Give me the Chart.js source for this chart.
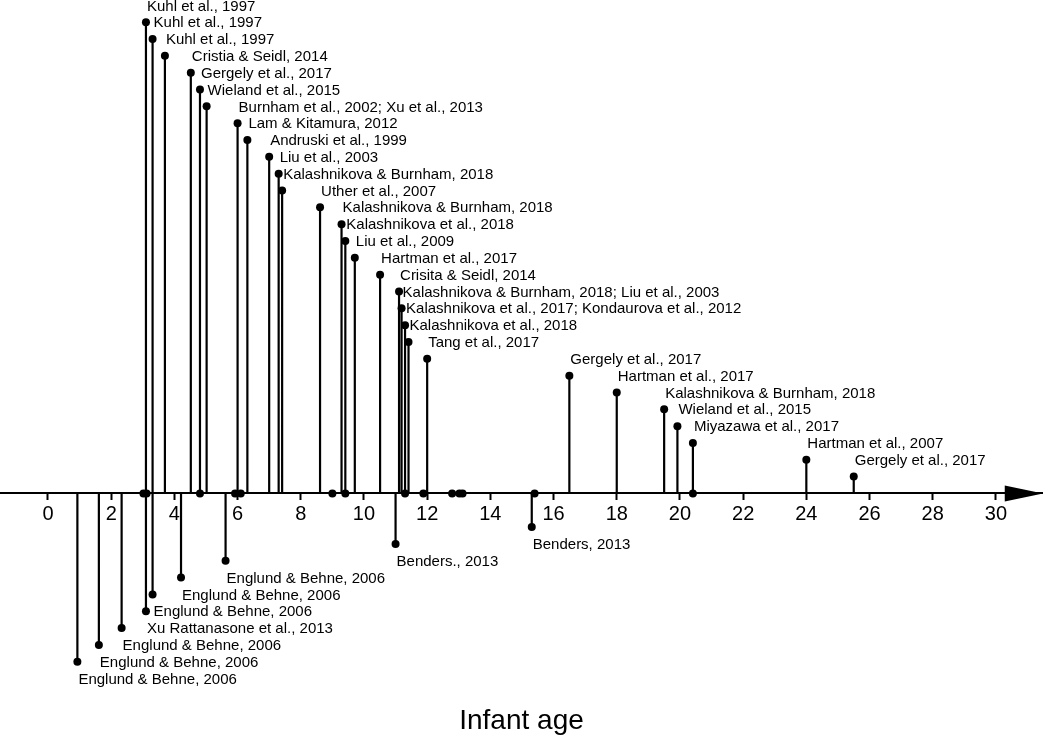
<!DOCTYPE html>
<html>
<head>
<meta charset="utf-8">
<title>Infant age</title>
<script src="https://cdn.jsdelivr.net/npm/chart.js@4.4.0/dist/chart.umd.min.js"></script>
<style>
  html, body { margin: 0; padding: 0; background: #fff; }
  canvas { display: block; }
</style>
</head>
<body>
<canvas id="myChart" width="1043" height="735"></canvas>
<script>
// studies drawn above the axis (age in months, label row, citation)
const upAges = [3.10, 3.31, 3.70, 4.52, 4.81, 5.02, 6.0, 6.31, 7.0, 7.30, 7.41, 8.61, 9.29, 9.41,
  9.71, 10.51, 11.11, 11.19, 11.30, 11.41, 12.0, 16.5, 18.0, 19.5, 19.92, 20.41, 24.0, 25.5];
const upLevels = [28, 27, 26, 25, 24, 23, 22, 21, 20, 19, 18, 17, 16, 15,
  14, 13, 12, 11, 10, 9, 8, 7, 6, 5, 4, 3, 2, 1];
const upLabels = [
  'Kuhl et al., 1997',
  'Kuhl et al., 1997',
  'Kuhl et al., 1997',
  'Cristia & Seidl, 2014',
  'Gergely et al., 2017',
  'Wieland et al., 2015',
  'Burnham et al., 2002; Xu et al., 2013',
  'Lam & Kitamura, 2012',
  'Andruski et al., 1999',
  'Liu et al., 2003',
  'Kalashnikova & Burnham, 2018',
  'Uther et al., 2007',
  'Kalashnikova & Burnham, 2018',
  'Kalashnikova et al., 2018',
  'Liu et al., 2009',
  'Hartman et al., 2017',
  'Crisita & Seidl, 2014',
  'Kalashnikova & Burnham, 2018; Liu et al., 2003',
  'Kalashnikova et al., 2017; Kondaurova et al., 2012',
  'Kalashnikova et al., 2018',
  'Tang et al., 2017',
  'Gergely et al., 2017',
  'Hartman et al., 2017',
  'Kalashnikova & Burnham, 2018',
  'Wieland et al., 2015',
  'Miyazawa et al., 2017',
  'Hartman et al., 2007',
  'Gergely et al., 2017'
];

// studies drawn below the axis
const downAges = [0.93, 1.61, 2.33, 3.10, 3.31, 4.21, 5.62, 11.0, 15.31];
const downLevels = [-10, -9, -8, -7, -6, -5, -4, -3, -2];
const downLabels = [
  'Englund & Behne, 2006',
  'Englund & Behne, 2006',
  'Englund & Behne, 2006',
  'Xu Rattanasone et al., 2013',
  'Englund & Behne, 2006',
  'Englund & Behne, 2006',
  'Englund & Behne, 2006',
  'Benders., 2013',
  'Benders, 2013'
];

// points sitting on the axis itself
const axisDotAges = [3.02, 3.12, 4.81, 5.92, 6.10, 9.0, 9.41, 11.30, 11.88, 12.79, 13.02, 13.12, 15.40, 20.41];

const xTicks = [0, 2, 4, 6, 8, 10, 12, 14, 16, 18, 20, 22, 24, 26, 28, 30];
const arrowBase = 30.28;

const FONT = 'Liberation Sans, Arial, sans-serif';

// stems: (x,0) -> (x,level), broken by nulls
const allAges = upAges.concat(downAges);
const allLevels = upLevels.concat(downLevels);
const stemData = [];
allAges.forEach((a, i) => {
  stemData.push({ x: a, y: 0 });
  stemData.push({ x: a, y: allLevels[i] });
  stemData.push({ x: a, y: null });
});
const tipData = allAges.map((a, i) => ({ x: a, y: allLevels[i] }));
const axisData = axisDotAges.map(a => ({ x: a, y: 0 }));

const labelPlugin = {
  id: 'studyLabels',
  afterDatasetsDraw(chart) {
    const { ctx, scales: { x, y } } = chart;
    ctx.save();
    ctx.fillStyle = '#000';
    ctx.font = '15px ' + FONT;
    ctx.textAlign = 'left';
    ctx.textBaseline = 'middle';
    upAges.forEach((a, i) => {
      ctx.fillText(upLabels[i], x.getPixelForValue(a) + 1, y.getPixelForValue(upLevels[i] + 1) + 1);
    });
    downAges.forEach((a, i) => {
      ctx.fillText(downLabels[i], x.getPixelForValue(a) + 1, y.getPixelForValue(downLevels[i] - 1) + 1);
    });
    ctx.restore();
  }
};

const arrowPlugin = {
  id: 'axisArrow',
  afterDraw(chart) {
    const { ctx, scales: { x, y } } = chart;
    const x0 = x.getPixelForValue(arrowBase);
    const x1 = x.getPixelForValue(x.max);
    const yy = y.getPixelForValue(0);
    ctx.save();
    ctx.fillStyle = '#000';
    ctx.beginPath();
    ctx.moveTo(x0, yy - 8);
    ctx.lineTo(x1, yy);
    ctx.lineTo(x0, yy + 8);
    ctx.closePath();
    ctx.fill();
    ctx.restore();
  }
};

const ctx = document.getElementById('myChart').getContext('2d');
const myChart = new Chart(ctx, {
  type: 'scatter',
  data: {
    datasets: [
      {
        data: stemData,
        showLine: true,
        spanGaps: false,
        borderColor: '#000',
        borderWidth: 2.2,
        pointRadius: 0,
        pointHoverRadius: 0
      },
      {
        data: tipData,
        backgroundColor: '#000',
        borderColor: '#000',
        pointRadius: 4,
        borderWidth: 0
      },
      {
        data: axisData,
        backgroundColor: '#000',
        borderColor: '#000',
        pointRadius: 4,
        borderWidth: 0
      }
    ]
  },
  options: {
    responsive: false,
    animation: false,
    layout: { padding: 0, autoPadding: false },
    plugins: {
      legend: { display: false },
      tooltip: { enabled: false },
      title: {
        display: true,
        text: 'Infant age',
        position: 'bottom',
        color: '#000',
        font: { size: 28, family: FONT, weight: 'normal', lineHeight: 1 },
        padding: { top: 29.6, bottom: 0 }
      }
    },
    scales: {
      x: {
        type: 'linear',
        min: -1.519,
        max: 31.49,
        position: { y: 0 },
        afterBuildTicks: (scale) => { scale.ticks = xTicks.map(v => ({ value: v })); },
        grid: { drawOnChartArea: false, drawTicks: true, tickLength: 6, tickColor: '#000', tickWidth: 2 },
        border: { display: true, color: '#000', width: 2 },
        ticks: {
          color: '#000',
          font: { size: 20, family: FONT },
          padding: 3,
          maxRotation: 0,
          autoSkip: false
        }
      },
      y: {
        type: 'linear',
        display: false,
        min: -10.93,
        max: 29.32
      }
    }
  },
  plugins: [labelPlugin, arrowPlugin]
});
</script>
</body>
</html>
